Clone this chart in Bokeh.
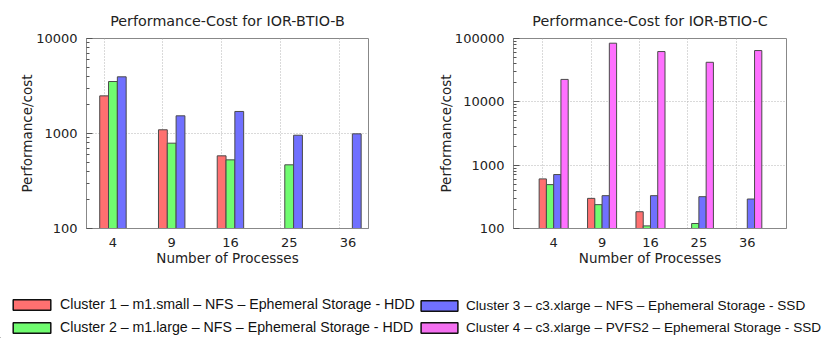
import math
from bokeh.plotting import figure
from bokeh.models import (Range1d, FixedTicker, PrintfTickFormatter, Legend,
                          LegendItem, ColumnDataSource)
from bokeh.layouts import column, row
from bokeh.embed import file_html
from bokeh.resources import INLINE

nan = float("nan")

# ---------------- data ----------------
procs = ["4", "9", "16", "25", "36"]

series_names = [
    "Cluster 1 \u2013 m1.small \u2013 NFS \u2013 Ephemeral Storage - HDD",
    "Cluster 2 \u2013 m1.large \u2013 NFS \u2013 Ephemeral Storage - HDD",
    "Cluster 3 \u2013 c3.xlarge \u2013 NFS \u2013 Ephemeral Storage - SSD",
    "Cluster 4 \u2013 c3.xlarge \u2013 PVFS2 \u2013 Ephemeral Storage - SSD",
]

# IOR-BTIO-B
b_cluster1 = [2490, 1094, 582, nan, nan]
b_cluster2 = [3525, 791, 528, 468, nan]
b_cluster3 = [3950, 1535, 1706, 959, 992]

# IOR-BTIO-C
c_cluster1 = [607, 299, 184, nan, nan]
c_cluster2 = [493, 238, 110, 120, nan]
c_cluster3 = [711, 330, 330, 318, 292]
c_cluster4 = [22600, 84300, 62200, 42100, 64500]

colors = ["#ff7070", "#70fc70", "#7070ff", "#ff70ff"]
legend_colors = ["#ff7070", "#70fc70", "#7070ff", "#f470f0"]
edge = "#4a4a4a"

FONT = "DejaVu Sans"
TOP_H = 270


def make_chart(title, series, y_max, x_range, offsets, min_left, min_right, width):
    p = figure(width=width, height=TOP_H, output_backend="svg", toolbar_location=None,
               y_axis_type="log", x_range=x_range, y_range=Range1d(100, y_max),
               min_border_left=min_left, min_border_right=min_right,
               min_border_top=38, min_border_bottom=42)
    p.title.text = title
    p.title.align = "center"
    p.title.text_font = FONT
    p.title.text_font_size = "14.3px"
    p.title.text_font_style = "normal"
    p.title.text_color = "#222222"
    p.title.standoff = 20
    p.title.offset = 0

    bw = 0.15
    for k, vals in enumerate(series):
        xs = [i + offsets[k] for i, v in enumerate(vals) if not math.isnan(v)]
        ys = [v for v in vals if not math.isnan(v)]
        src = ColumnDataSource(dict(x=xs, top=ys))
        p.vbar(x="x", top="top", bottom=100, width=bw, source=src,
               fill_color=colors[k], line_color=edge, line_width=1)

    p.outline_line_color = "#888888"
    p.outline_line_width = 1

    # x axis
    centers = list(range(len(procs)))
    p.xaxis.ticker = FixedTicker(ticks=centers)
    p.xaxis.major_label_overrides = {i: s for i, s in enumerate(procs)}
    p.xaxis.major_tick_in = 0
    p.xaxis.major_tick_out = 0
    p.xaxis.minor_tick_in = 0
    p.xaxis.minor_tick_out = 0
    p.xaxis.axis_line_color = "#888888"
    p.xaxis.major_label_standoff = 9
    p.xaxis.axis_label = "Number of Processes"
    p.xaxis.axis_label_standoff = 0

    # y axis
    decades = []
    d = 100
    while d <= y_max:
        decades.append(d)
        d *= 10
    minors = [dd * m for dd in decades[:-1] for m in range(2, 10)]
    p.yaxis.ticker = FixedTicker(ticks=decades, minor_ticks=minors)
    p.yaxis.formatter = PrintfTickFormatter(format="%d")
    p.yaxis.major_tick_in = 6
    p.yaxis.major_tick_out = 0
    p.yaxis.minor_tick_in = 3
    p.yaxis.minor_tick_out = 0
    p.yaxis.major_tick_line_color = "#555555"
    p.yaxis.minor_tick_line_color = "#555555"
    p.yaxis.axis_line_color = "#888888"
    p.yaxis.major_label_standoff = 9
    p.yaxis.axis_label = "Performance/cost"
    p.yaxis.axis_label_standoff = -2

    for ax in (p.xaxis, p.yaxis):
        ax.major_label_text_font = FONT
        ax.major_label_text_font_size = "13px"
        ax.major_label_text_color = "#222222"
        ax.axis_label_text_font = FONT
        ax.axis_label_text_font_size = "13.5px"
        ax.axis_label_text_font_style = "normal"
        ax.axis_label_text_color = "#222222"

    # grids: x grid passes through the first bar of each group
    p.xgrid.ticker = FixedTicker(ticks=[c + offsets[0] for c in centers])
    p.ygrid.ticker = FixedTicker(ticks=decades)
    for g in (p.xgrid, p.ygrid):
        g.grid_line_color = "#b4b4b4"
        g.grid_line_dash = "1 2"
        g.grid_line_width = 1
    return p


p1 = make_chart("Performance-Cost for IOR-BTIO-B",
                [b_cluster1, b_cluster2, b_cluster3], 10000,
                Range1d(-0.45, 4.35), [-0.15, 0.0, 0.15], 86, 50, 418)
p2 = make_chart("Performance-Cost for IOR-BTIO-C",
                [c_cluster1, c_cluster2, c_cluster3, c_cluster4], 100000,
                Range1d(-0.83, 4.81), [-0.225, -0.075, 0.075, 0.225], 95, 45, 413)

# ---------------- legend ----------------
leg = figure(width=831, height=68, output_backend="svg", toolbar_location=None,
             x_range=Range1d(0, 1), y_range=Range1d(0, 1),
             min_border_left=0, min_border_right=0, min_border_top=0, min_border_bottom=0)
leg.axis.visible = False
leg.grid.visible = False
leg.outline_line_color = None

dummies = []
for k in range(4):
    src = ColumnDataSource(dict(x=[-10.0], top=[-5.0]))
    r = leg.vbar(x="x", top="top", bottom=-6.0, width=0.1, source=src,
                 fill_color=legend_colors[k], line_color="#111111", line_width=1.5)
    dummies.append(r)


def make_legend(items, loc, gw, standoff, fsize):
    L = Legend(items=items, location=loc, orientation="vertical",
               glyph_width=gw, glyph_height=13, label_height=13,
               label_standoff=standoff, spacing=7, padding=0, margin=0,
               border_line_color=None, background_fill_alpha=0,
               label_text_font="Liberation Sans", label_text_font_size=fsize,
               label_text_color="#111111")
    leg.add_layout(L)


make_legend([LegendItem(label=series_names[0], renderers=[dummies[0]]),
             LegendItem(label=series_names[1], renderers=[dummies[1]])], (8, 3), 47, 5, "14.2px")
make_legend([LegendItem(label=series_names[2], renderers=[dummies[2]]),
             LegendItem(label=series_names[3], renderers=[dummies[3]])], (416, 3), 46, 4, "13.6px")

layout = column(row(p1, p2), leg)
open("out.html", "w").write(file_html(layout, INLINE))
